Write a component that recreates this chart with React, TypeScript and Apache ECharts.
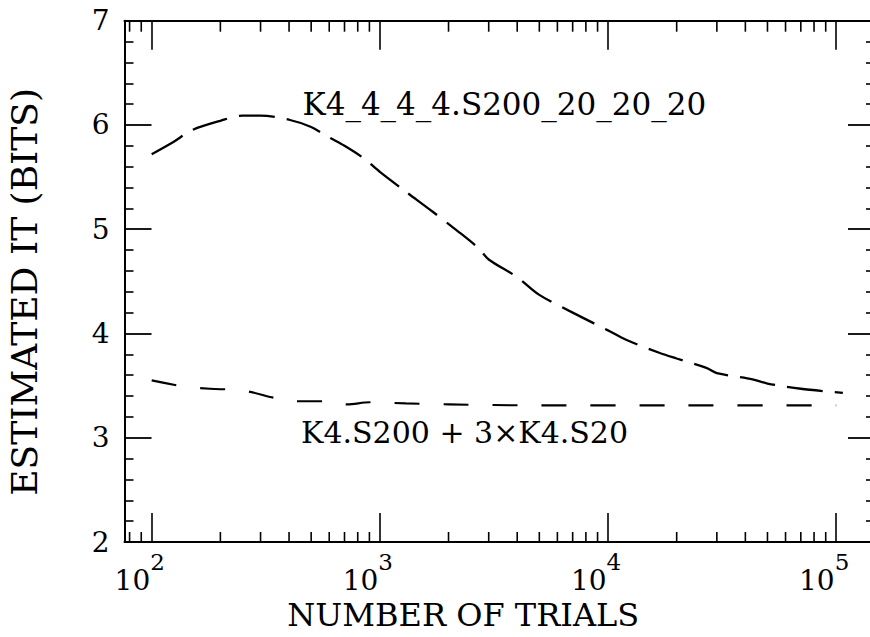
import { useEffect, useRef } from 'react';
import * as echarts from 'echarts';

// ---- data ----
const upperTrials = [100, 125, 150, 200, 250, 300, 400, 500, 600, 700, 850, 1000, 1300, 1700, 2200, 2700, 3000, 4000, 5000, 7000, 10000, 12000, 17000, 20000, 27000, 30000, 43000, 50000, 70000, 107000];
const upperBits = [5.72, 5.84, 5.95, 6.04, 6.09, 6.09, 6.05, 5.98, 5.88, 5.8, 5.68, 5.55, 5.36, 5.17, 4.98, 4.82, 4.71, 4.54, 4.37, 4.2, 4.03, 3.94, 3.81, 3.76, 3.67, 3.62, 3.56, 3.52, 3.47, 3.43];

const lowerTrials = [100, 140, 180, 230, 270, 350, 440, 570, 720, 900, 1300, 2000, 5000, 20000, 100000];
const lowerBits = [3.55, 3.49, 3.47, 3.46, 3.44, 3.38, 3.35, 3.35, 3.32, 3.34, 3.33, 3.32, 3.31, 3.31, 3.31];

const minorTickTrials = [80, 90, 200, 300, 400, 500, 600, 700, 800, 900, 2000, 3000, 4000, 5000, 6000, 7000, 8000, 9000, 20000, 30000, 40000, 50000, 60000, 70000, 80000, 90000];

const upperLabel = 'K4_4_4_4.S200_20_20_20';
const lowerLabel = 'K4.S200 + 3×K4.S20';
const xName = 'NUMBER OF TRIALS';
const yName = 'ESTIMATED IT (BITS)';

const X_MIN = 76;
const X_MAX = 148000;
const Y_MIN = 2;
const Y_MAX = 7;

const FONT = '"DejaVu Serif", "Liberation Serif", serif';

export default function App() {
  const ref = useRef<HTMLDivElement>(null);

  useEffect(() => {
    document.body.style.margin = '0';
    const chart = echarts.init(ref.current!, null, { renderer: 'svg' });

    const upperData = upperTrials.map((t, i) => [t, upperBits[i]]);
    const lowerData = lowerTrials.map((t, i) => [t, lowerBits[i]]);

    const xLabelFormatter = (v: number) => {
      const e = Math.log10(v);
      if (Math.abs(e - Math.round(e)) > 1e-6) return '';
      return `{b|10}{s|${Math.round(e)}}`;
    };

    const commonX = {
      type: 'log' as const,
      logBase: 10,
      min: X_MIN,
      max: X_MAX,
      splitLine: { show: false },
      axisLine: { show: true, lineStyle: { color: '#000', width: 2 } },
      axisTick: { show: true, inside: true, length: 29, lineStyle: { color: '#000', width: 1.6 } },
      minorTick: { show: false },
    };

    const commonY = {
      type: 'value' as const,
      min: Y_MIN,
      max: Y_MAX,
      interval: 1,
      splitLine: { show: false },
      axisLine: { show: true, lineStyle: { color: '#000', width: 2 } },
      axisTick: { show: true, inside: true, length: 27, lineStyle: { color: '#000', width: 1.8 } },
      minorTick: { show: true, splitNumber: 5, length: 9, lineStyle: { color: '#000', width: 1.6 } },
    };

    chart.setOption({
      animation: false,
      backgroundColor: '#fff',
      grid: { left: 124.5, top: 20.7, width: 750.5, height: 521.3, containLabel: false, outerBoundsMode: 'none' },
      xAxis: [
        {
          ...commonX,
          position: 'bottom',
          name: xName,
          nameLocation: 'middle',
          nameGap: 59,
          nameTextStyle: { fontFamily: FONT, fontSize: 32, lineHeight: 28, color: '#000', padding: [0, 73, 0, 0] },
          axisLabel: {
            show: true,
            margin: 8,
            showMinLabel: false,
            showMaxLabel: false,
            padding: [0, 24, 0, 0],
            formatter: xLabelFormatter,
            rich: {
              b: { fontFamily: FONT, fontSize: 28, color: '#000', lineHeight: 44, verticalAlign: 'bottom' },
              s: { fontFamily: FONT, fontSize: 23, color: '#000', lineHeight: 16, verticalAlign: 'top' },
            },
          },
        },
        {
          ...commonX,
          position: 'top',
          axisLabel: { show: false },
        },
      ],
      yAxis: [
        {
          ...commonY,
          position: 'left',
          name: yName,
          nameLocation: 'middle',
          nameGap: 82,
          nameTextStyle: { fontFamily: FONT, fontSize: 36, color: '#000', padding: [0, 21, 0, 0] },
          axisLabel: {
            show: true,
            margin: 15,
            padding: [6, 0, 0, 0],
            fontFamily: FONT,
            fontSize: 28,
            color: '#000',
            formatter: (v: number) => String(v),
          },
        },
        {
          ...commonY,
          position: 'right',
          axisLabel: { show: false },
        },
      ],
      series: [
        {
          type: 'line',
          name: upperLabel,
          data: upperData,
          xAxisIndex: 0,
          yAxisIndex: 0,
          showSymbol: false,
          symbol: 'none',
          smooth: 0.3,
          lineStyle: { color: '#000', width: 2.3, type: [36, 12] },
          silent: true,
        },
        {
          type: 'line',
          name: lowerLabel,
          data: lowerData,
          xAxisIndex: 0,
          yAxisIndex: 0,
          showSymbol: false,
          symbol: 'none',
          smooth: 0.3,
          lineStyle: { color: '#000', width: 2.1, type: [25, 24] },
          silent: true,
        },
        {
          type: 'custom',
          xAxisIndex: 0,
          yAxisIndex: 0,
          silent: true,
          clip: false,
          data: minorTickTrials.map((t) => [t, Y_MIN]),
          encode: { x: 0, y: 1 },
          renderItem: (_params: any, api: any) => {
            const v = api.value(0);
            const pb = api.coord([v, Y_MIN]);
            const pt = api.coord([v, Y_MAX]);
            return {
              type: 'group',
              children: [
                { type: 'line', shape: { x1: pb[0], y1: pb[1], x2: pb[0], y2: pb[1] - 10 }, style: { stroke: '#000', lineWidth: 1.6 } },
                { type: 'line', shape: { x1: pt[0], y1: pt[1], x2: pt[0], y2: pt[1] + 11 }, style: { stroke: '#000', lineWidth: 1.6 } },
              ],
            };
          },
        },
      ],
      graphic: [
        {
          type: 'text',
          x: 302.5,
          y: 104,
          style: {
            text: upperLabel,
            font: `31px ${FONT}`,
            fill: '#000',
            textAlign: 'left',
            textVerticalAlign: 'middle',
            align: 'left',
            verticalAlign: 'middle',
          },
        },
        {
          type: 'text',
          x: 301,
          y: 432,
          style: {
            text: lowerLabel,
            font: `30px ${FONT}`,
            fill: '#000',
            textAlign: 'left',
            textVerticalAlign: 'middle',
            align: 'left',
            verticalAlign: 'middle',
          },
        },
      ],
    });

    return () => chart.dispose();
  }, []);

  return <div ref={ref} style={{ position: 'absolute', left: 0, top: 0, width: 870, height: 637 }} />;
}
